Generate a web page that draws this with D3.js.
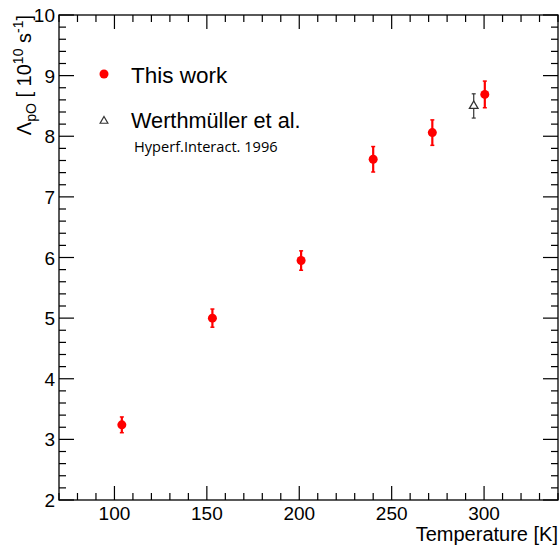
<!DOCTYPE html>
<html>
<head>
<script src="https://d3js.org/d3.v7.min.js"></script>
<style>
  body { margin: 0; background: #fff; }
  text { font-family: "Liberation Sans", Arial, sans-serif; fill: #000; }
</style>
</head>
<body>
<svg width="559" height="547"></svg>
<script>
// This work
const temps = [104, 153, 201, 240, 272, 300.4];
const rates = [3.24, 5.0, 5.95, 7.62, 8.06, 8.69];
const errs  = [0.13, 0.15, 0.16, 0.21, 0.21, 0.22];
// Werthmuller et al. 1996
const refTemps = [294.4];
const refRates = [8.5];
const refErrs  = [0.2];

const xTicks = [100, 150, 200, 250, 300];
const yTicks = [2, 3, 4, 5, 6, 7, 8, 9, 10];

const svg = d3.select("svg");
const L = 59, T = 15, R = 558, B = 500;
const x = d3.scaleLinear().domain([70, 340]).range([L, R]);
const y = d3.scaleLinear().domain([2, 10]).range([B, T]);

// frame
svg.append("rect").attr("x", L).attr("y", T).attr("width", R - L).attr("height", B - T)
  .attr("fill", "none").attr("stroke", "#000").attr("stroke-width", 1.3);

const tk = svg.append("g").attr("stroke", "#000").attr("stroke-width", 1.2);
d3.range(70, 341, 10).forEach(v => {
  const len = v % 50 === 0 ? 14 : 7;
  tk.append("line").attr("x1", x(v)).attr("x2", x(v)).attr("y1", B).attr("y2", B - len);
  tk.append("line").attr("x1", x(v)).attr("x2", x(v)).attr("y1", T).attr("y2", T + len);
});
d3.range(20, 101, 2).map(v => v / 10).forEach(v => {
  const len = Math.abs(v - Math.round(v)) < 1e-6 ? 15 : 7;
  tk.append("line").attr("y1", y(v)).attr("y2", y(v)).attr("x1", L).attr("x2", L + len);
  tk.append("line").attr("y1", y(v)).attr("y2", y(v)).attr("x1", R).attr("x2", R - len);
});

svg.append("g").selectAll("text").data(xTicks).join("text")
  .attr("x", d => x(d)).attr("y", B + 20).attr("text-anchor", "middle")
  .attr("font-size", 19).text(d => d);
svg.append("g").selectAll("text").data(yTicks).join("text")
  .attr("x", L - 4).attr("y", d => y(d) + 7).attr("text-anchor", "end")
  .attr("font-size", 19).text(d => d);

// axis titles
svg.append("text").attr("x", R).attr("y", 541).attr("text-anchor", "end")
  .attr("font-size", 20).text("Temperature [K]");
const yt = svg.append("text").attr("transform", "translate(31," + T + ") rotate(-90)")
  .attr("text-anchor", "end").attr("font-size", 20);
yt.append("tspan").text("Λ");
yt.append("tspan").attr("font-size", 14).attr("dy", 5).text("pO");
yt.append("tspan").attr("dy", -5).text(" [ 10");
yt.append("tspan").attr("font-size", 14).attr("dy", -8).text("10");
yt.append("tspan").attr("dy", 8).text(" s");
yt.append("tspan").attr("font-size", 14).attr("dy", -8).text("-1");
yt.append("tspan").attr("dy", 8).text("]");

// this work points
const red = "#ff0000";
const g1 = svg.append("g");
temps.forEach((t, i) => {
  g1.append("line").attr("x1", x(t)).attr("x2", x(t))
    .attr("y1", y(rates[i] - errs[i])).attr("y2", y(rates[i] + errs[i]))
    .attr("stroke", red).attr("stroke-width", 2.2);
  [rates[i] - errs[i], rates[i] + errs[i]].forEach(e =>
    g1.append("line").attr("x1", x(t) - 2).attr("x2", x(t) + 2).attr("y1", y(e)).attr("y2", y(e))
      .attr("stroke", red).attr("stroke-width", 1.5));
  g1.append("circle").attr("cx", x(t)).attr("cy", y(rates[i])).attr("r", 4.5).attr("fill", red);
});

// reference point
const g2 = svg.append("g");
const tri = d3.symbol().type(d3.symbolTriangle).size(32);
refTemps.forEach((t, i) => {
  g2.append("line").attr("x1", x(t)).attr("x2", x(t))
    .attr("y1", y(refRates[i] - refErrs[i])).attr("y2", y(refRates[i] + refErrs[i]))
    .attr("stroke", "#333").attr("stroke-width", 1.2);
  [refRates[i] - refErrs[i], refRates[i] + refErrs[i]].forEach(e =>
    g2.append("line").attr("x1", x(t) - 2).attr("x2", x(t) + 2).attr("y1", y(e)).attr("y2", y(e))
      .attr("stroke", "#333").attr("stroke-width", 1.2));
  g2.append("path").attr("d", tri).attr("transform", `translate(${x(t)},${y(refRates[i])})`)
    .attr("fill", "#fff").attr("stroke", "#333").attr("stroke-width", 1.3);
});

// legend
svg.append("circle").attr("cx", 104).attr("cy", 74).attr("r", 4.5).attr("fill", red);
svg.append("text").attr("x", 131).attr("y", 83).attr("font-size", 22.5).text("This work");
svg.append("path").attr("d", d3.symbol().type(d3.symbolTriangle).size(26))
  .attr("transform", "translate(104,121)").attr("fill", "#fff").attr("stroke", "#333").attr("stroke-width", 1.2);
svg.append("text").attr("x", 131).attr("y", 128).attr("font-size", 21.7).text("Werthmüller et al.");
svg.append("text").attr("x", 134).attr("y", 152).attr("font-size", 14.6)
  .style("font-family", "'Open Sans', sans-serif").text("Hyperf.Interact. 1996");
</script>
</body>
</html>
